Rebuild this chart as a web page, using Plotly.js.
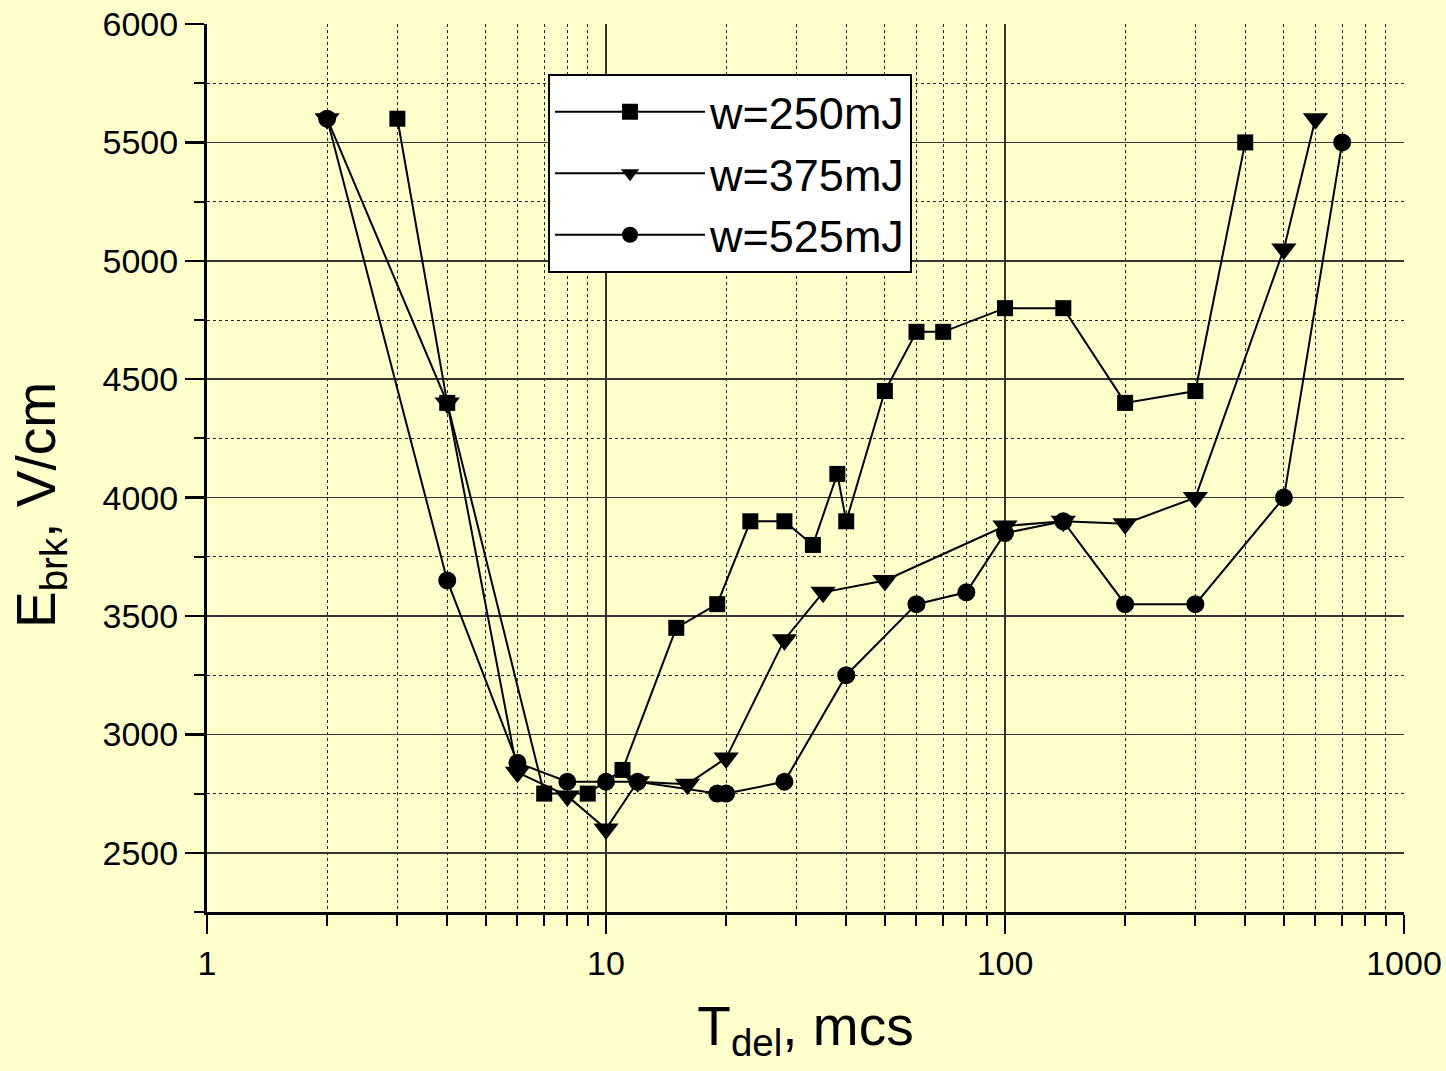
<!DOCTYPE html>
<html>
<head>
<meta charset="utf-8">
<script src="https://cdn.plot.ly/plotly-3.0.1.min.js"></script>
<style>
  html, body { margin: 0; padding: 0; background: #ffffcc; }
  #chart { width: 1446px; height: 1071px; }
</style>
</head>
<body>
<div id="chart"></div>
<script>
// Data
const seriesNames = ['w=250mJ', 'w=375mJ', 'w=525mJ'];
const t250 = [3, 4, 7, 9, 11, 15, 19, 23, 28, 33, 38, 40, 50, 60, 70, 100, 140, 200, 300, 400];
const e250 = [5600, 4400, 2750, 2750, 2850, 3450, 3550, 3900, 3900, 3800, 4100, 3900, 4450, 4700, 4700, 4800, 4800, 4400, 4450, 5500];
const t375 = [2, 4, 6, 8, 10, 12, 16, 20, 28, 35, 50, 100, 140, 200, 300, 500, 600];
const e375 = [5600, 4400, 2840, 2740, 2600, 2800, 2790, 2900, 3400, 3600, 3650, 3880, 3900, 3890, 4000, 5050, 5600];
const t525 = [2, 4, 6, 8, 10, 12, 19, 20, 28, 40, 60, 80, 100, 140, 200, 300, 500, 700];
const e525 = [5600, 3650, 2880, 2800, 2800, 2800, 2750, 2750, 2800, 3250, 3550, 3600, 3850, 3900, 3550, 3550, 4000, 5500];

const xTickVals = [1, 10, 100, 1000];
const xTickText = ['1', '10', '100', '1000'];
const xTitle = 'T<sub>del</sub>, mcs';
const yTitle = 'E<sub>brk</sub>, V/cm';

const FONT = 'Liberation Sans, Arial, sans-serif';

const xMinor = [];
[1, 10, 100].forEach(d => { for (let k = 2; k <= 9; k++) xMinor.push(k * d); });

const lineStyle = { color: 'black', width: 2 };
const traces = [
  { x: t250, y: e250, name: seriesNames[0], mode: 'lines+markers', line: lineStyle,
    marker: { symbol: 'square', size: 16, color: 'black' } },
  { x: t375, y: e375, name: seriesNames[1], mode: 'lines+markers', line: lineStyle,
    marker: { symbol: 'triangle-down', size: 22, color: 'black' } },
  { x: t525, y: e525, name: seriesNames[2], mode: 'lines+markers', line: lineStyle,
    marker: { symbol: 'circle', size: 18, color: 'black' } }
];

const layout = {
  width: 1446, height: 1071,
  paper_bgcolor: '#ffffcc', plot_bgcolor: '#ffffcc',
  margin: { l: 207, r: 42, t: 24, b: 159 },
  font: { family: FONT, color: 'black' },
  showlegend: true,
  legend: {
    x: 0.2849, y: 0.9437, xanchor: 'left', yanchor: 'top',
    bgcolor: 'white', bordercolor: 'black', borderwidth: 2,
    font: { family: FONT, size: 45, color: 'black' },
    itemwidth: 150
  },
  xaxis: {
    type: 'log', range: [0, 3],
    tickmode: 'array', tickvals: xTickVals, ticktext: xTickText,
    tickfont: { family: FONT, size: 34 },
    ticks: 'outside', ticklen: 19, tickwidth: 2.5, tickcolor: 'black',
    showline: true, linewidth: 3, linecolor: 'black',
    showgrid: true, gridcolor: '#333333', gridwidth: 1.5,
    zeroline: false,
    minor: { tickmode: 'array', tickvals: xMinor, ticks: 'outside', ticklen: 11, tickwidth: 2, tickcolor: 'black',
             showgrid: true, gridcolor: '#222222', gridwidth: 1, griddash: 'dot' },
    title: { text: xTitle, font: { family: FONT, size: 55 }, standoff: 26 },
    automargin: 'bottom'
  },
  yaxis: {
    range: [2250, 6000],
    tickmode: 'linear', tick0: 0, dtick: 500,
    tickfont: { family: FONT, size: 34 },
    ticks: 'outside', ticklen: 19, tickwidth: 2.5, tickcolor: 'black',
    showline: true, linewidth: 3, linecolor: 'black',
    showgrid: true, gridcolor: '#333333', gridwidth: 1.5,
    zeroline: false,
    minor: { dtick: 250, tick0: 0, ticks: 'outside', ticklen: 10, tickwidth: 2, tickcolor: 'black',
             showgrid: true, gridcolor: '#222222', gridwidth: 1, griddash: 'dot' },
    automargin: false
  },
  annotations: [
    { text: yTitle, xref: 'paper', yref: 'paper', x: (40 - 207) / 1197, y: (912 - 505) / 888,
      xanchor: 'center', yanchor: 'middle', textangle: -90, showarrow: false,
      font: { family: FONT, size: 55, color: 'black' } }
  ]
};

Plotly.newPlot('chart', traces, layout, { staticPlot: true, displayModeBar: false });
</script>
</body>
</html>
